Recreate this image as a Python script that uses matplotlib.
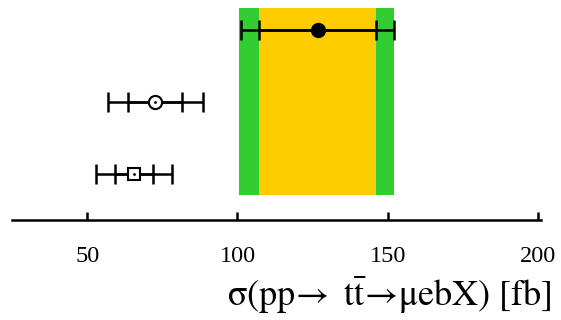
import matplotlib
matplotlib.use("Agg")
import matplotlib.pyplot as plt

plt.rcParams['font.family'] = ['Liberation Serif', 'DejaVu Serif']
plt.rcParams['mathtext.fontset'] = 'stix'

# Data
rows = [0, 1, 2]
central = [65.7, 72.7, 126.7]
err_inner = [6.3, 9.0, 19.5]
err_outer = [12.6, 15.8, 25.5]
markers = ['s', 'o', 'o']
filled = [False, False, True]

band_inner = (107.2, 146.0)
band_outer = (100.5, 152.0)

xticks = [50, 100, 150, 200]
xlabel = r'$\mathrm{\sigma(pp\!\rightarrow\ t\bar{t}\!\rightarrow\!\mu ebX)\ [fb]}$'

fig = plt.figure(figsize=(5.61, 3.2), dpi=100)
ax = fig.add_axes([12/561, 1 - 220/320, 529/561, 212/320])
ax.set_xlim(25, 201)
ax.set_ylim(-0.639, 2.306)

band_lo, band_hi = -0.292, 2.306
ax.fill_between(band_outer, band_lo, band_hi, color='#33CC33', lw=0, zorder=1)
ax.fill_between(band_inner, band_lo, band_hi, color='#FFCC00', lw=0, zorder=2)

for y, c, ei, eo, m, f in zip(rows, central, err_inner, err_outer, markers, filled):
    ax.errorbar([c], [y], xerr=[[eo], [eo]], fmt='none', ecolor='black',
                elinewidth=1.8, capsize=7.2, capthick=1.8, zorder=3)
    ax.errorbar([c], [y], xerr=[[ei], [ei]], fmt='none', ecolor='black',
                elinewidth=1.8, capsize=7.2, capthick=1.8, zorder=3)
    ax.plot([c], [y], marker=m, ms=9.5 if m == 'o' else 9,
            mfc='black' if f else 'white', mec='black', mew=1.5, ls='none', zorder=4)
    if not f:
        ax.plot([c], [y], marker='.', ms=2, color='black', ls='none', zorder=5)

for s in ['top', 'left', 'right']:
    ax.spines[s].set_visible(False)
ax.spines['bottom'].set_linewidth(1.8)
ax.set_yticks([])
ax.set_xticks(xticks)
ax.tick_params(axis='x', direction='in', length=6, width=1.8, pad=19, labelsize=17.5)

fig.text(551/561, 1 - 306/320, xlabel, fontsize=26, ha='right', va='baseline')

fig.savefig('out.png', dpi=100)
